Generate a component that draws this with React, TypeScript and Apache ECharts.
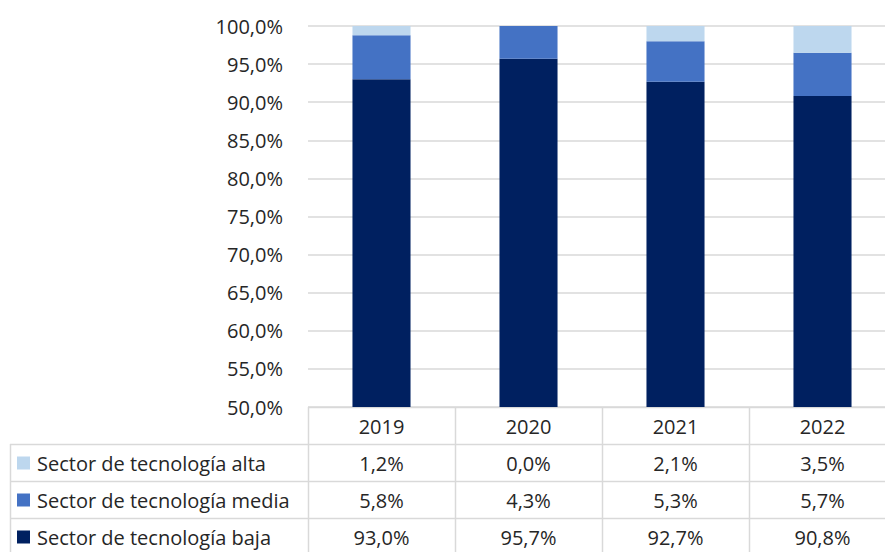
import React, { useEffect, useRef } from "react";
import * as echarts from "echarts";

const years = ["2019", "2020", "2021", "2022"];
const seriesNames = ["Sector de tecnología alta", "Sector de tecnología media", "Sector de tecnología baja"];
const alta = [1.2, 0.0, 2.1, 3.5];
const media = [5.8, 4.3, 5.3, 5.7];
const baja = [93.0, 95.7, 92.7, 90.8];
const colors = ["#BDD7EE", "#4472C4", "#002060"];

const VIEW_W = 885;
const W = 896;
const H = 552;
const GL = 308;
const GT = 26;
const GB = 407;
const ROW = 37;
const FONT = "Open Sans";
const FS = 20;
const TXT = "#262626";
const LINE = "#D9D9D9";

const fmt = (v: number) => v.toFixed(1).replace(".", ",") + "%";

export default function App() {
  const ref = useRef<HTMLDivElement>(null);
  useEffect(() => {
    document.body.style.margin = "0";
    const chart = echarts.init(ref.current!, null, { renderer: "svg" });
    const colW = (W - GL) / years.length;
    const tableRows = [alta, media, baja];
    const graphics: any[] = [];
    graphics.push({ type: "line", shape: { x1: GL, y1: GB + 0.5, x2: W, y2: GB + 0.5 }, style: { stroke: LINE, lineWidth: 1.5 } });
    for (let r = 1; r <= 3; r++) {
      const y = GB + ROW * r + 0.5;
      graphics.push({ type: "line", shape: { x1: 10, y1: y, x2: W, y2: y }, style: { stroke: LINE, lineWidth: 1.5 } });
    }
    for (let k = 0; k < years.length; k++) {
      const x = Math.round(GL + colW * k) + 0.5;
      graphics.push({ type: "line", shape: { x1: x, y1: GB, x2: x, y2: H }, style: { stroke: LINE, lineWidth: 1.5 } });
    }
    graphics.push({ type: "line", shape: { x1: 10.5, y1: GB + ROW, x2: 10.5, y2: H }, style: { stroke: LINE, lineWidth: 1.5 } });
    years.forEach((y, i) => {
      graphics.push({
        type: "text",
        x: GL + colW * (i + 0.5),
        y: GB + ROW / 2 + 1,
        style: { text: y, fill: TXT, font: `${FS}px '${FONT}'`, align: "center", verticalAlign: "middle" },
      });
    });
    tableRows.forEach((vals, r) => {
      const cy = GB + ROW * (r + 1) + ROW / 2 + 1;
      graphics.push({ type: "rect", shape: { x: 17, y: cy - 7, width: 13, height: 13 }, style: { fill: colors[r] } });
      graphics.push({
        type: "text",
        x: 37,
        y: cy,
        style: { text: seriesNames[r], fill: TXT, font: `${FS}px '${FONT}'`, align: "left", verticalAlign: "middle" },
      });
      vals.forEach((v, i) => {
        graphics.push({
          type: "text",
          x: GL + colW * (i + 0.5),
          y: cy,
          style: { text: fmt(v), fill: TXT, font: `${FS}px '${FONT}'`, align: "center", verticalAlign: "middle" },
        });
      });
    });

    const mk = (name: string, data: number[], color: string) => ({
      name,
      type: "bar",
      stack: "total",
      data,
      barWidth: "39.5%",
      itemStyle: { color },
    });

    chart.setOption({
      animation: false,
      textStyle: { fontFamily: FONT },
      grid: { left: GL, right: 0, top: GT, bottom: H - GB, containLabel: false },
      xAxis: {
        type: "category",
        data: years,
        axisLine: { show: false },
        axisTick: { show: false },
        axisLabel: { show: false },
      },
      yAxis: {
        type: "value",
        min: 50,
        max: 100,
        interval: 5,
        axisLine: { show: false },
        axisTick: { show: false },
        axisLabel: { formatter: (v: number) => fmt(v), color: TXT, fontSize: FS, margin: 25, fontFamily: FONT },
        splitLine: { lineStyle: { color: LINE, width: 1.5 } },
      },
      series: [mk(seriesNames[2], baja, colors[2]), mk(seriesNames[1], media, colors[1]), mk(seriesNames[0], alta, colors[0])],
      graphic: graphics,
    });
    return () => chart.dispose();
  }, []);
  return (
    <div style={{ width: VIEW_W, height: H, overflow: "hidden" }}>
      <div ref={ref} style={{ width: W, height: H }} />
    </div>
  );
}
